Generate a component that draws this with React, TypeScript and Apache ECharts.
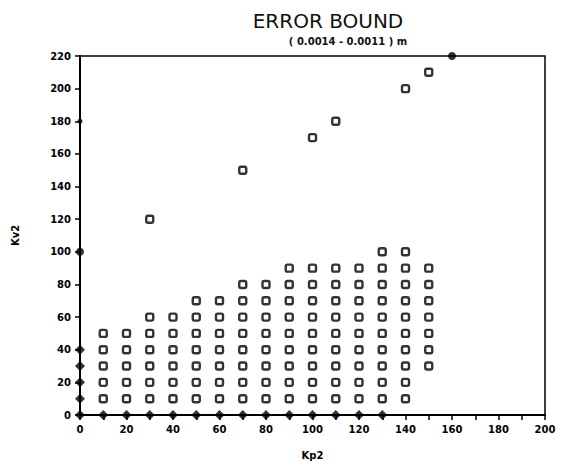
import React, { useEffect, useRef } from "react";
import * as echarts from "echarts";

// Open-square points [Kp2, Kv2], column by column
const col10 = [[10, 10], [10, 20], [10, 30], [10, 40], [10, 50]];
const col20 = [[20, 10], [20, 20], [20, 30], [20, 40], [20, 50]];
const col30 = [[30, 10], [30, 20], [30, 30], [30, 40], [30, 50], [30, 60], [30, 120]];
const col40 = [[40, 10], [40, 20], [40, 30], [40, 40], [40, 50], [40, 60]];
const col50 = [[50, 10], [50, 20], [50, 30], [50, 40], [50, 50], [50, 60], [50, 70]];
const col60 = [[60, 10], [60, 20], [60, 30], [60, 40], [60, 50], [60, 60], [60, 70]];
const col70 = [[70, 10], [70, 20], [70, 30], [70, 40], [70, 50], [70, 60], [70, 70], [70, 80], [70, 150]];
const col80 = [[80, 10], [80, 20], [80, 30], [80, 40], [80, 50], [80, 60], [80, 70], [80, 80]];
const col90 = [[90, 10], [90, 20], [90, 30], [90, 40], [90, 50], [90, 60], [90, 70], [90, 80], [90, 90]];
const col100 = [[100, 10], [100, 20], [100, 30], [100, 40], [100, 50], [100, 60], [100, 70], [100, 80], [100, 90], [100, 170]];
const col110 = [[110, 10], [110, 20], [110, 30], [110, 40], [110, 50], [110, 60], [110, 70], [110, 80], [110, 90], [110, 180]];
const col120 = [[120, 10], [120, 20], [120, 30], [120, 40], [120, 50], [120, 60], [120, 70], [120, 80], [120, 90]];
const col130 = [[130, 10], [130, 20], [130, 30], [130, 40], [130, 50], [130, 60], [130, 70], [130, 80], [130, 90], [130, 100]];
const col140 = [[140, 10], [140, 20], [140, 30], [140, 40], [140, 50], [140, 60], [140, 70], [140, 80], [140, 90], [140, 100], [140, 200]];
const col150 = [[150, 30], [150, 40], [150, 50], [150, 60], [150, 70], [150, 80], [150, 90], [150, 210]];

// Filled diamonds along the axes
const diamondPoints = [
  [0, 0], [10, 0], [20, 0], [30, 0], [40, 0], [50, 0], [60, 0], [70, 0],
  [80, 0], [90, 0], [100, 0], [110, 0], [120, 0], [130, 0],
  [0, 10], [0, 20], [0, 30], [0, 40],
];

// Filled dots
const dotPoints = [[0, 100], [160, 220]];
const smallDotPoints = [[0, 180]];

const titleText = "ERROR BOUND";
const subtitleText = "( 0.0014 - 0.0011 ) m";
const xName = "Kp2";
const yName = "Kv2";

export default function App() {
  const ref = useRef<HTMLDivElement>(null);
  useEffect(() => {
    if (!ref.current) return;
    const chart = echarts.init(ref.current, null, { renderer: "svg" });
    const squares = [
      ...col10, ...col20, ...col30, ...col40, ...col50, ...col60, ...col70, ...col80,
      ...col90, ...col100, ...col110, ...col120, ...col130, ...col140, ...col150,
    ];
    const labelStyle = {
      color: "#000",
      fontFamily: "DejaVu Sans",
      fontWeight: "bold" as const,
      fontSize: 10,
    };
    chart.setOption({
      animation: false,
      backgroundColor: "#fff",
      title: [
        {
          text: titleText,
          left: 323,
          top: 6,
          textAlign: "center",
          textStyle: { fontFamily: "DejaVu Sans", fontWeight: "normal", fontSize: 20, color: "#111" },
        },
        {
          text: subtitleText,
          left: 343,
          top: 31,
          textAlign: "center",
          textStyle: { fontFamily: "DejaVu Sans", fontWeight: "bold", fontSize: 10, color: "#111" },
        },
      ],
      grid: {
        left: 80,
        right: 25,
        top: 56,
        bottom: 46,
        show: true,
        borderColor: "#000",
        borderWidth: 1.5,
        backgroundColor: "transparent",
      },
      xAxis: {
        type: "value",
        min: 0,
        max: 200,
        interval: 10,
        name: xName,
        nameLocation: "middle",
        nameGap: 35,
        nameTextStyle: labelStyle,
        axisLine: { show: true, lineStyle: { color: "#000", width: 2 } },
        axisTick: { show: true, length: 5, lineStyle: { color: "#000", width: 1.5 } },
        axisLabel: {
          ...labelStyle,
          margin: 9,
          showMaxLabel: true,
          formatter: (v: number) => (v % 20 === 0 ? String(v) : ""),
        },
        splitLine: { show: false },
      },
      yAxis: {
        type: "value",
        min: 0,
        max: 220,
        interval: 20,
        name: yName,
        nameLocation: "middle",
        nameGap: 60,
        nameRotate: 90,
        nameTextStyle: labelStyle,
        axisLine: { show: true, lineStyle: { color: "#000", width: 2 } },
        axisTick: { show: true, length: 5, lineStyle: { color: "#000", width: 1.5 } },
        axisLabel: { ...labelStyle, margin: 9, showMaxLabel: true },
        splitLine: { show: false },
      },
      series: [
        {
          type: "scatter",
          data: squares,
          symbol: "roundRect",
          symbolSize: 7,
          clip: false,
          itemStyle: { color: "#fff", borderColor: "#000", borderWidth: 2.4 },
        },
        {
          type: "scatter",
          data: diamondPoints,
          symbol: "diamond",
          symbolSize: 10,
          clip: false,
          itemStyle: { color: "#000" },
        },
        {
          type: "scatter",
          data: dotPoints,
          symbol: "circle",
          symbolSize: 8,
          clip: false,
          itemStyle: { color: "#000" },
        },
        {
          type: "scatter",
          data: smallDotPoints,
          symbol: "circle",
          symbolSize: 5,
          clip: false,
          itemStyle: { color: "#000" },
        },
      ],
    });
    return () => chart.dispose();
  }, []);
  return <div ref={ref} style={{ width: 570, height: 465, position: "absolute", left: 0, top: 0 }} />;
}
